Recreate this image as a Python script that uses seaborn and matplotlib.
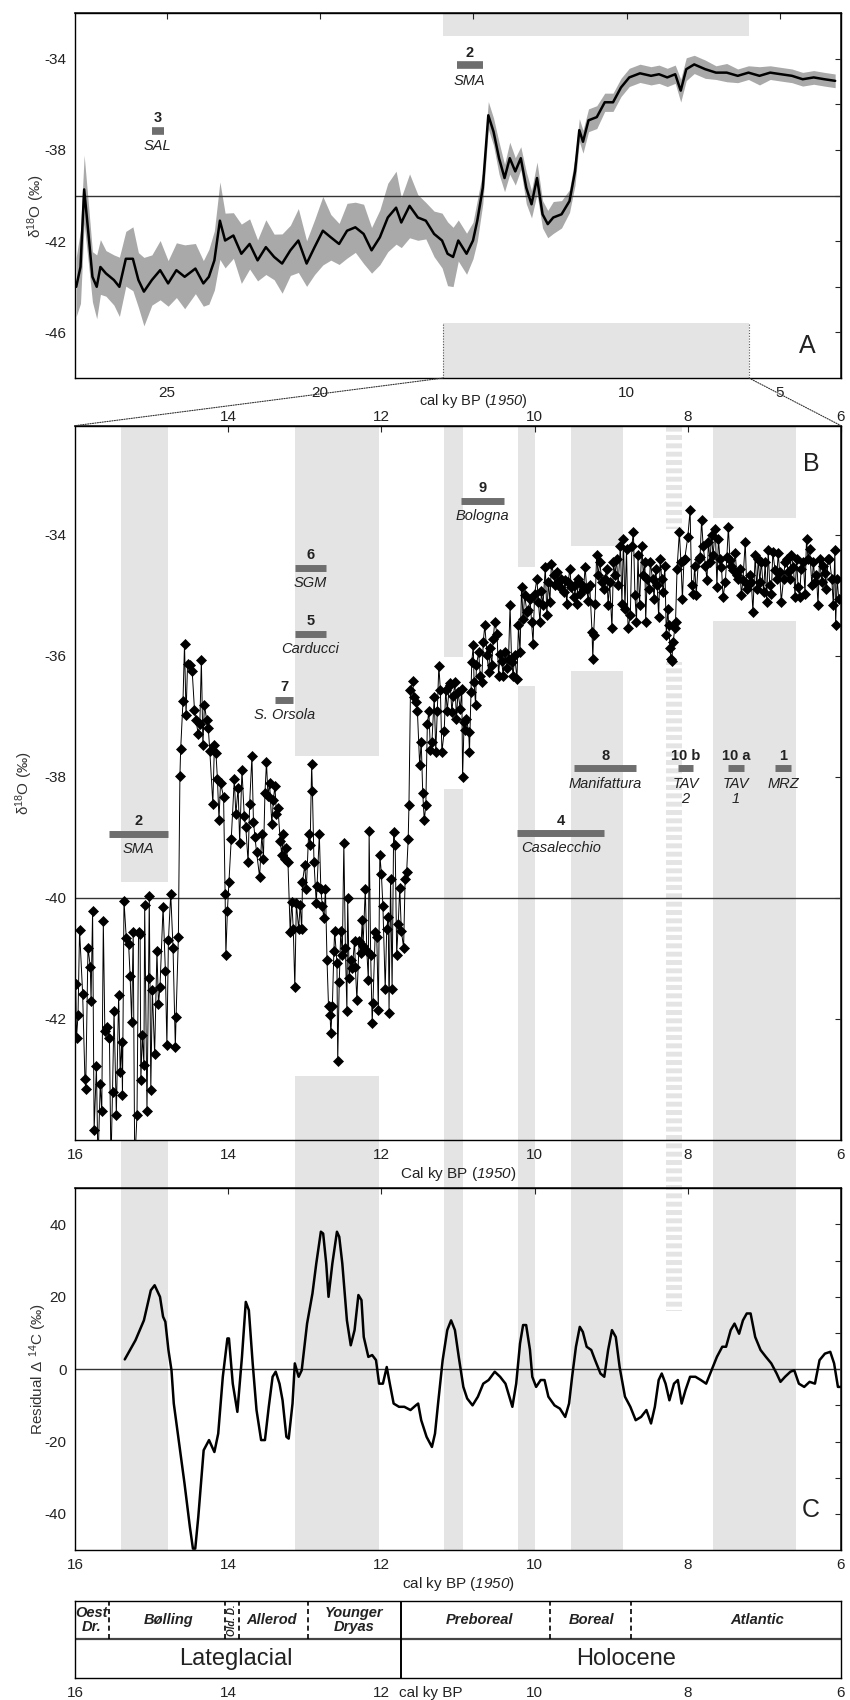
import matplotlib
matplotlib.use("Agg")
import matplotlib.pyplot as plt
import matplotlib.transforms as mtransforms
from matplotlib import font_manager
from matplotlib.patches import Rectangle, ConnectionPatch
import seaborn as sns

# style
sns.set_theme(style="white")
_names = {f.name for f in font_manager.fontManager.ttflist}
BASE = "Liberation Sans Narrow" if "Liberation Sans Narrow" in _names else "Liberation Sans"
plt.rcParams["font.family"] = [BASE, "DejaVu Sans"]
plt.rcParams["mathtext.fontset"] = "custom"
plt.rcParams["mathtext.rm"] = BASE
plt.rcParams["mathtext.it"] = BASE + ":italic"
plt.rcParams["mathtext.sf"] = BASE + ":italic"   # used for italic digits (1950)
plt.rcParams["axes.unicode_minus"] = False
plt.rcParams["hatch.linewidth"] = 3.5

BAND = "#e4e4e4"
SITE = "#6e6e6e"
ENV = "#a9a9a9"
TXT = "#222222"

# ---------------- panel A : long d18O record with envelope ----------------
ageA = [27.96, 27.82, 27.70, 27.56, 27.43, 27.29, 27.17, 26.99, 26.73, 26.55,
        26.34, 26.11, 25.93, 25.75, 25.49, 25.22, 24.96, 24.69, 24.42, 24.07,
        23.81, 23.63, 23.45, 23.27, 23.10, 22.83, 22.57, 22.30, 22.04, 21.77,
        21.50, 21.24, 20.97, 20.71, 20.44, 20.18, 19.91, 19.65, 19.38, 19.12,
        18.85, 18.58, 18.32, 18.05, 17.79, 17.52, 17.35, 17.08, 16.81, 16.55,
        16.28, 16.02, 15.84, 15.66, 15.49, 15.22, 15.01, 14.87, 14.69, 14.51,
        14.34, 14.16, 13.98, 13.81, 13.63, 13.45, 13.27, 13.10, 12.92, 12.74,
        12.57, 12.39, 12.12, 11.86, 11.68, 11.54, 11.42, 11.24, 10.97, 10.71,
        10.44, 10.18, 9.91, 9.56, 9.20, 8.94, 8.67, 8.41, 8.23, 8.05,
        7.79, 7.43, 7.08, 6.73, 6.37, 6.02, 5.66, 5.31, 4.96, 4.60,
        4.25, 3.89, 3.54, 3.19]
d18A = [-44.0, -43.13, -39.73, -41.68, -43.56, -44.0, -43.13, -43.41, -43.70, -44.0,
        -42.77, -42.77, -43.70, -44.21, -43.70, -43.27, -43.85, -43.27, -43.56, -43.20,
        -43.85, -43.56, -42.84, -41.10, -41.97, -41.75, -42.55, -42.12, -42.84, -42.26,
        -42.69, -42.98, -42.40, -41.97, -42.98, -42.26, -41.54, -41.83, -42.12, -41.54,
        -41.39, -41.68, -42.40, -41.83, -40.96, -40.53, -41.18, -40.45, -40.96, -41.10,
        -41.68, -41.97, -42.55, -42.69, -41.97, -42.55, -41.97, -41.10, -39.66, -36.48,
        -37.20, -38.36, -39.23, -38.36, -38.94, -38.36, -39.66, -40.38, -39.23, -40.82,
        -41.25, -40.96, -40.82, -40.24, -38.94, -37.13, -37.64, -36.70, -36.56, -35.91,
        -35.91, -35.26, -34.82, -34.64, -34.75, -34.68, -34.82, -34.68, -35.40, -34.46,
        -34.25, -34.46, -34.61, -34.61, -34.75, -34.61, -34.75, -34.61, -34.68, -34.75,
        -34.90, -34.82, -34.90, -34.97]
errA = [1.3, 1.6, 1.5, 1.3, 1.1, 1.4, 1.2, 1.0, 1.1, 1.3,
        1.2, 1.4, 1.2, 1.5, 1.1, 1.3, 1.0, 1.2, 1.4, 1.1,
        1.0, 1.2, 1.3, 1.7, 1.2, 1.0, 1.3, 1.1, 0.9, 1.2,
        1.0, 1.3, 1.1, 1.4, 1.0, 1.2, 1.5, 1.0, 0.9, 1.2,
        1.1, 1.3, 1.0, 1.2, 1.5, 1.6, 1.1, 1.4, 1.0, 0.8,
        1.0, 1.2, 1.4, 1.3, 0.9, 0.9, 0.8, 0.9, 0.7, 0.6,
        0.6, 0.7, 0.6, 0.7, 0.6, 0.5, 0.7, 0.6, 0.7, 0.6,
        0.6, 0.7, 0.6, 0.5, 0.6, 0.5, 0.5, 0.5, 0.5, 0.4,
        0.4, 0.4, 0.4, 0.4, 0.4, 0.4, 0.4, 0.4, 0.5, 0.5,
        0.4, 0.4, 0.3, 0.4, 0.3, 0.3, 0.4, 0.3, 0.3, 0.3,
        0.3, 0.3, 0.3, 0.3]

sitesA_num = ["3", "2"]
sitesA_name = ["SAL", "SMA"]
sitesA_old = [25.49, 15.54]
sitesA_young = [25.10, 14.69]
sitesA_y = [-37.16, -34.29]

# ---------------- panel B : high resolution d18O (16-6 ka) ----------------
ageB_lg = [15.99, 15.98, 15.96, 15.94, 15.90, 15.87, 15.86, 15.83, 15.80, 15.79,
           15.77, 15.75, 15.72, 15.70, 15.67, 15.65, 15.63, 15.61, 15.58, 15.55,
           15.53, 15.51, 15.49, 15.46, 15.43, 15.41, 15.39, 15.38, 15.36, 15.33,
           15.30, 15.28, 15.26, 15.24, 15.22, 15.19, 15.17, 15.15, 15.14, 15.12,
           15.10, 15.09, 15.06, 15.04, 15.03, 15.01, 14.99, 14.96, 14.93, 14.91,
           14.89, 14.85, 14.82, 14.80, 14.78, 14.75, 14.72, 14.69, 14.68, 14.65,
           14.63, 14.62, 14.59, 14.57, 14.55, 14.53, 14.50, 14.47, 14.44, 14.42,
           14.39, 14.37, 14.35, 14.33, 14.31, 14.28, 14.26, 14.24, 14.20, 14.18,
           14.16, 14.14, 14.12, 14.10, 14.06, 14.04, 14.03, 14.01, 13.99, 13.96,
           13.92, 13.90, 13.87, 13.85, 13.82, 13.79, 13.77, 13.74, 13.72, 13.69,
           13.67, 13.65, 13.63, 13.59]
d18B_lg = [-41.42, -42.32, -41.93, -40.53, -41.58, -42.99, -43.15, -40.82, -41.14, -41.70,
           -40.21, -43.84, -42.78, -44.4, -43.08, -43.52, -40.38, -42.2, -42.14, -42.32,
           -44.4, -43.2, -41.87, -43.58, -41.61, -42.87, -42.38, -43.25, -40.05, -40.67,
           -40.76, -41.29, -42.05, -40.56, -44.4, -43.58, -40.57, -40.59, -43.01, -42.26,
           -42.76, -40.12, -43.52, -41.32, -39.97, -43.17, -41.52, -42.58, -40.88, -41.76,
           -41.47, -40.15, -41.20, -42.43, -40.70, -39.93, -40.82, -42.46, -41.96, -40.64,
           -37.98, -37.54, -36.75, -35.81, -36.98, -36.13, -36.16, -36.25, -36.89, -37.07,
           -37.30, -37.13, -36.07, -37.48, -36.81, -37.07, -37.19, -37.57, -38.45, -37.48,
           -37.60, -38.04, -38.71, -38.10, -38.33, -39.94, -40.94, -40.21, -39.74, -39.03,
           -38.04, -38.62, -38.18, -39.09, -37.89, -38.65, -38.83, -39.41, -38.45, -37.66,
           -38.74, -39.00, -39.24, -39.65]

ageB_yd = [13.56, 13.54, 13.52, 13.50, 13.48, 13.46, 13.43, 13.41, 13.39, 13.37,
           13.35, 13.32, 13.30, 13.28, 13.26, 13.24, 13.22, 13.19, 13.17, 13.15,
           13.13, 13.11, 13.08, 13.06, 13.04, 13.03, 13.00, 12.98, 12.95, 12.93,
           12.91, 12.90, 12.88, 12.85, 12.84, 12.81, 12.79, 12.77, 12.75, 12.73,
           12.71, 12.69, 12.67, 12.66, 12.64, 12.62, 12.61, 12.58, 12.57, 12.55,
           12.53, 12.51, 12.49, 12.47, 12.45, 12.44, 12.42, 12.40, 12.38, 12.35,
           12.34, 12.32, 12.29, 12.27, 12.25, 12.24, 12.21, 12.19, 12.17, 12.16,
           12.14, 12.12, 12.11, 12.08, 12.06, 12.04, 12.02, 12.00, 11.98, 11.95,
           11.93, 11.91, 11.90, 11.88, 11.86, 11.84, 11.82, 11.80, 11.78, 11.76,
           11.74, 11.71, 11.69, 11.67, 11.65, 11.64, 11.62, 11.59, 11.58, 11.55,
           11.53, 11.50, 11.48, 11.46, 11.44, 11.42, 11.40, 11.38, 11.36, 11.34,
           11.31, 11.29, 11.27, 11.25, 11.23, 11.21, 11.18, 11.16, 11.14, 11.11]
d18B_yd = [-38.95, -39.35, -38.27, -37.76, -38.32, -38.10, -38.78, -38.38, -38.15, -38.61,
           -38.52, -39.06, -39.29, -38.95, -39.35, -39.18, -39.40, -40.57, -40.06, -40.51,
           -41.48, -40.09, -40.51, -40.11, -40.51, -39.74, -39.46, -39.86, -38.95, -39.12,
           -37.79, -38.24, -39.40, -40.09, -39.80, -38.95, -39.86, -40.14, -40.34, -39.86,
           -41.02, -41.79, -41.93, -42.24, -41.79, -40.88, -40.54, -41.08, -42.70, -41.39,
           -40.54, -40.94, -39.09, -40.82, -41.87, -40.00, -41.33, -41.02, -41.16, -40.71,
           -41.14, -41.68, -40.71, -40.91, -40.37, -40.80, -39.86, -40.88, -41.36, -38.89,
           -40.94, -42.07, -41.73, -40.57, -40.65, -41.85, -39.29, -39.60, -40.14, -41.50,
           -40.51, -40.31, -41.90, -39.69, -41.50, -38.92, -39.12, -40.94, -40.43, -39.83,
           -40.54, -40.82, -39.69, -39.57, -39.03, -38.47, -36.56, -36.42, -36.68, -36.76,
           -36.91, -37.81, -37.42, -38.27, -38.72, -38.47, -37.13, -36.91, -37.56, -37.42,
           -36.68, -37.59, -36.91, -36.17, -36.56, -37.59, -37.25, -36.56, -36.91, -36.45]

ageB_eh = [11.10, 11.08, 11.06, 11.04, 11.02, 11.00, 10.97, 10.95, 10.94, 10.92,
           10.91, 10.89, 10.86, 10.85, 10.83, 10.82, 10.80, 10.79, 10.77, 10.76,
           10.73, 10.71, 10.69, 10.67, 10.65, 10.62, 10.60, 10.58, 10.56, 10.54,
           10.52, 10.49, 10.47, 10.45, 10.43, 10.41, 10.39, 10.36, 10.34, 10.32,
           10.30, 10.28, 10.26, 10.23, 10.21, 10.19, 10.17, 10.15, 10.13, 10.10,
           10.08, 10.06, 10.04, 10.02, 10.00, 9.97, 9.95, 9.93, 9.91, 9.89,
           9.86, 9.84, 9.82, 9.80, 9.78, 9.75, 9.73, 9.71, 9.69, 9.67,
           9.65, 9.62, 9.60, 9.58, 9.56, 9.54, 9.52, 9.49, 9.47, 9.45,
           9.43, 9.41, 9.39, 9.36, 9.34, 9.32, 9.30, 9.28, 9.25, 9.24,
           9.23, 9.21, 9.19, 9.17, 9.15, 9.12, 9.10, 9.08, 9.06, 9.04,
           9.02, 8.99, 8.97, 8.95, 8.93, 8.91, 8.88, 8.86, 8.84, 8.82,
           8.80, 8.78, 8.75, 8.73, 8.71, 8.69, 8.67, 8.65, 8.63]
d18B_eh = [-36.49, -36.93, -36.66, -36.44, -37.04, -36.60, -36.88, -36.55, -38.01, -37.10,
           -37.23, -37.04, -37.26, -37.59, -36.60, -36.10, -35.83, -36.44, -36.82, -36.16,
           -35.94, -36.33, -36.44, -35.77, -35.50, -35.99, -36.27, -35.88, -36.16, -35.72,
           -35.44, -35.64, -36.33, -35.97, -36.08, -36.33, -35.94, -36.21, -36.05, -35.17,
           -36.10, -36.33, -35.99, -36.38, -35.50, -35.94, -34.87, -35.39, -35.00, -35.28,
           -35.25, -35.06, -35.44, -35.80, -34.98, -34.73, -35.11, -35.44, -34.93, -35.17,
           -34.53, -35.33, -34.78, -35.11, -34.48, -34.67, -34.84, -34.62, -34.78, -34.87,
           -34.73, -34.95, -34.75, -35.14, -34.78, -34.56, -34.87, -35.03, -34.84, -35.14,
           -34.73, -34.98, -34.81, -34.89, -34.53, -34.89, -35.09, -34.84, -35.61, -36.05,
           -35.66, -35.14, -34.34, -34.67, -34.45, -34.78, -34.89, -34.73, -34.56, -35.17,
           -34.78, -35.55, -34.45, -34.67, -34.40, -34.84, -34.18, -35.14, -34.07, -35.22,
           -34.23, -35.55, -35.33, -34.18, -33.96, -35.00, -35.44, -34.34, -35.17]

ageB_mh = [8.60, 8.58, 8.56, 8.55, 8.53, 8.50, 8.49, 8.46, 8.44, 8.42,
           8.40, 8.38, 8.36, 8.34, 8.32, 8.30, 8.28, 8.26, 8.25, 8.23,
           8.22, 8.21, 8.19, 8.17, 8.16, 8.14, 8.11, 8.09, 8.07, 8.05,
           8.04, 8.00, 7.97, 7.95, 7.93, 7.91, 7.89, 7.86, 7.84, 7.82,
           7.80, 7.77, 7.75, 7.73, 7.71, 7.69, 7.67, 7.64, 7.62, 7.60,
           7.58, 7.56, 7.54, 7.51, 7.49, 7.47, 7.45, 7.43, 7.41, 7.38,
           7.36, 7.34, 7.32, 7.30, 7.28, 7.25, 7.23, 7.21, 7.19, 7.17,
           7.15, 7.12, 7.10, 7.08, 7.06, 7.04, 7.01, 6.99, 6.97, 6.95,
           6.93, 6.91, 6.89, 6.86, 6.84, 6.82, 6.80, 6.78, 6.75, 6.73,
           6.71, 6.69, 6.67, 6.65, 6.62, 6.60, 6.58, 6.56, 6.54, 6.52,
           6.49, 6.47, 6.45, 6.43, 6.41, 6.38, 6.36, 6.34, 6.32, 6.30,
           6.28, 6.25, 6.23, 6.21, 6.19, 6.17, 6.15, 6.12, 6.10, 6.08,
           6.07, 6.05, 6.03]
d18B_mh = [-34.18, -34.67, -34.45, -35.44, -34.73, -34.89, -34.45, -34.73, -35.06, -34.56,
           -34.84, -35.36, -34.40, -34.73, -34.95, -34.51, -35.66, -35.22, -35.50, -35.88,
           -36.05, -36.08, -35.77, -35.55, -35.44, -34.56, -33.96, -34.45, -35.06, -34.42,
           -34.40, -34.04, -33.60, -34.84, -34.98, -34.51, -35.00, -34.40, -34.37, -33.76,
           -34.18, -34.51, -34.75, -34.12, -34.45, -34.01, -34.34, -33.90, -34.87, -34.07,
           -34.40, -34.53, -35.03, -34.78, -34.37, -33.87, -34.42, -34.51, -34.59, -34.31,
           -34.67, -34.73, -34.56, -35.00, -34.75, -34.12, -34.89, -34.84, -34.67, -34.78,
           -35.28, -34.34, -34.89, -34.40, -34.78, -34.45, -34.95, -34.45, -35.11, -34.26,
           -34.84, -34.98, -34.29, -34.59, -34.73, -34.31, -34.62, -35.11, -34.73, -34.45,
           -34.40, -34.62, -34.73, -34.34, -34.53, -35.03, -34.40, -34.87, -35.03, -34.56,
           -34.45, -34.98, -34.07, -34.40, -34.23, -34.84, -34.45, -34.78, -34.67, -35.17,
           -34.40, -34.78, -34.51, -34.64, -34.89, -34.40, -34.40, -34.73, -35.17, -34.26,
           -35.50, -34.73, -35.06]

sitesB_num = ["2", "4", "8", "10 b", "10 a", "1", "9", "6", "5", "7"]
sitesB_name = ["SMA", "Casalecchio", "Manifattura", "TAV\n2", "TAV\n1", "MRZ",
               "Bologna", "SGM", "Carducci", "S. Orsola"]
sitesB_old = [15.56, 10.23, 9.48, 8.13, 7.48, 6.86, 10.96, 13.13, 13.13, 13.39]
sitesB_young = [14.78, 9.09, 8.67, 7.93, 7.26, 6.65, 10.40, 12.72, 12.72, 13.15]
sitesB_y = [-38.94, -38.93, -37.86, -37.86, -37.86, -37.86, -33.44, -34.55, -35.64, -36.73]

# grey event bands (ka), with the white gap they leave in panel B
band_old = [15.40, 13.13, 11.18, 10.21, 9.52, 7.67]
band_young = [14.78, 12.03, 10.93, 9.99, 8.85, 6.59]
band_gap_top = [-39.73, -37.66, -36.02, -34.53, -34.19, -33.73]
band_gap_bot = [-44.0, -42.94, -38.20, -36.50, -36.25, -35.42]
dash_old, dash_young = 8.29, 8.08
dash_gap_top, dash_gap_bot, dash_end_C = -33.9, -36.1, 16.0

# ---------------- panel C : residual D14C ----------------
ageC = [15.35, 15.21, 15.10, 15.01, 14.96, 14.89, 14.85, 14.82, 14.78, 14.74,
        14.71, 14.64, 14.57, 14.50, 14.46, 14.43, 14.39, 14.32, 14.25, 14.18,
        14.13, 14.07, 14.01, 13.99, 13.94, 13.88, 13.82, 13.77, 13.73, 13.68,
        13.63, 13.57, 13.52, 13.47, 13.42, 13.38, 13.33, 13.29, 13.24, 13.21,
        13.16, 13.13, 13.08, 13.04, 12.97, 12.90, 12.85, 12.79, 12.76, 12.72,
        12.69, 12.64, 12.58, 12.55, 12.51, 12.45, 12.40, 12.35, 12.30, 12.26,
        12.23, 12.17, 12.12, 12.07, 12.03, 11.98, 11.93, 11.89, 11.84, 11.77,
        11.70, 11.62, 11.55, 11.52, 11.48, 11.41, 11.34, 11.30, 11.26, 11.20,
        11.14, 11.09, 11.04, 10.99, 10.93, 10.88, 10.81, 10.74, 10.67, 10.60,
        10.52, 10.45, 10.38, 10.33, 10.29, 10.24, 10.19, 10.15, 10.11, 10.06,
        10.03, 9.98, 9.92, 9.87, 9.82, 9.74, 9.67, 9.60, 9.55, 9.51,
        9.46, 9.41, 9.37, 9.32, 9.26, 9.21, 9.14, 9.09, 9.04, 8.99,
        8.94, 8.89, 8.82, 8.75, 8.68, 8.61, 8.54, 8.48, 8.43, 8.38,
        8.34, 8.29, 8.24, 8.18, 8.13, 8.08, 8.03, 7.97, 7.90, 7.83,
        7.76, 7.69, 7.62, 7.55, 7.50, 7.44, 7.39, 7.33, 7.28, 7.23,
        7.18, 7.12, 7.05, 6.98, 6.91, 6.84, 6.79, 6.73, 6.66, 6.61,
        6.55, 6.48, 6.41, 6.34, 6.28, 6.21, 6.14, 6.09, 6.04, 6.00]
resC = [2.7, 8.0, 13.5, 21.8, 23.2, 20.0, 14.5, 13.1, 5.3, -0.3,
        -9.5, -20.6, -31.6, -43.6, -49.6, -49.6, -40.8, -22.4, -19.6, -22.9,
        -17.8, -2.1, 8.5, 8.5, -4.0, -11.8, 3.4, 18.6, 16.3, 1.6,
        -11.3, -19.6, -19.6, -10.4, -2.1, -0.7, -4.0, -8.6, -18.7, -19.2,
        -9.5, 1.6, -2.1, -0.3, 12.6, 20.9, 29.2, 38.0, 37.5, 29.2,
        20.0, 29.2, 38.0, 36.6, 29.2, 13.5, 6.6, 10.8, 20.5, 19.1,
        8.9, 3.4, 3.9, 2.5, -4.0, -4.0, 0.6, -4.0, -9.5, -10.4,
        -10.4, -11.3, -10.0, -9.5, -14.1, -18.7, -21.5, -17.8, -9.5, 2.5,
        10.8, 13.5, 10.8, 3.4, -4.9, -8.1, -10.0, -7.6, -4.0, -3.0,
        -0.7, -2.1, -4.0, -7.6, -10.4, -4.0, 7.1, 12.2, 12.2, 5.3,
        -2.1, -4.9, -3.0, -3.0, -7.6, -10.0, -10.9, -13.2, -9.5, -2.1,
        6.2, 11.7, 10.3, 6.2, 5.3, 2.5, -1.2, -2.1, 5.3, 10.8,
        8.9, 0.6, -7.6, -10.4, -14.1, -13.2, -11.3, -15.0, -10.4, -3.0,
        -1.2, -4.0, -8.6, -4.0, -3.0, -9.5, -5.8, -2.1, -2.1, -3.0,
        -4.0, -0.3, 3.4, 6.2, 6.2, 10.8, 12.6, 9.8, 13.5, 15.4,
        15.4, 8.9, 5.3, 3.4, 1.6, -1.2, -3.5, -2.1, -0.7, -0.3,
        -4.0, -4.9, -3.5, -4.0, 2.5, 4.3, 4.8, 1.6, -4.9, -4.9]

# ---------------- chronozones ----------------
chron_names = ["Oest\nDr.", "Bølling", "Allerod", "Younger\nDryas", "Preboreal", "Boreal", "Atlantic"]
chron_pos = [15.78, 14.78, 13.43, 12.35, 10.72, 9.25, 7.09]
chron_bounds = [15.56, 14.04, 13.86, 12.96, 9.80, 8.74]
od_name, od_pos = "Old. D.", 13.95
epoch_names = ["Lateglacial", "Holocene"]
epoch_pos = [13.9, 8.8]
epoch_split = 11.75

ageB = ageB_lg + ageB_yd + ageB_eh + ageB_mh
d18B = d18B_lg + d18B_yd + d18B_eh + d18B_mh
assert len(ageB) == len(d18B) and len(ageA) == len(d18A) == len(errA) and len(ageC) == len(resC)

XLAB_A = r"cal ky BP ($\mathsf{1950}$)"
XLAB_B = r"Cal ky BP ($\mathsf{1950}$)"


def style_axis(ax, right_ticks):
    for sp in ax.spines.values():
        sp.set_color("black")
        sp.set_linewidth(1.0)
    ax.tick_params(axis="both", direction="out", length=4, width=0.8,
                   labelsize=11, colors="black", labelcolor=TXT, pad=2)
    sec = ax.secondary_yaxis("right")
    sec.set_yticks(right_ticks, labels=[])
    sec.tick_params(direction="in", length=4, width=0.8)
    return sec


def add_site(ax, old, young, y, num, name, lw=5):
    ax.plot([old, young], [y, y], color=SITE, lw=lw, solid_capstyle="butt", zorder=4)
    mid = (old + young) / 2
    ax.annotate(num, (mid, y), xytext=(0, 4), textcoords="offset points",
                ha="center", va="bottom", fontsize=10.5, fontweight="bold", color=TXT, zorder=5)
    ax.annotate(name, (mid, y), xytext=(0, -6), textcoords="offset points",
                ha="center", va="top", fontsize=10.5, fontstyle="italic", color=TXT,
                linespacing=1.1, zorder=5)


fig = plt.figure(figsize=(8.5, 17), dpi=100)
axA = fig.add_axes([0.0882, 0.7776, 0.9012, 0.2147])
axB = fig.add_axes([0.0882, 0.3294, 0.9012, 0.4202])
axC = fig.add_axes([0.0882, 0.0882, 0.9012, 0.2128])
axD = fig.add_axes([0.0882, 0.0131, 0.9012, 0.0451])
for ax in (axA, axB, axC, axD):
    ax.set_facecolor("none")

# ---- A ----
axA.set_xlim(28, 3)
axA.set_ylim(-48, -32)
axA.fill_between(ageA, [v - e for v, e in zip(d18A, errA)], [v + e for v, e in zip(d18A, errA)],
                 color=ENV, lw=0, zorder=1)
sns.lineplot(x=ageA, y=d18A, ax=axA, estimator=None, sort=False, color="black", lw=1.8, zorder=3)
axA.axhline(-40, color="#333333", lw=1.0, zorder=2)
axA.add_patch(Rectangle((6, -33.0), 10, 1.0, facecolor=BAND, lw=0, zorder=0))
axA.add_patch(Rectangle((6, -48.0), 10, 2.4, facecolor=BAND, lw=0, zorder=0))
axA.vlines([16, 6], -48, -45.6, colors="#555555", lw=0.8, linestyles=(0, (1, 1.5)), zorder=1)
for o, yg, y, n, nm in zip(sitesA_old, sitesA_young, sitesA_y, sitesA_num, sitesA_name):
    add_site(axA, o, yg, y, n, nm, lw=5.5)
axA.set_xticks([25, 20, 15, 10, 5], labels=["25", "20", "", "10", "5"])
axA.set_yticks([-34, -38, -42, -46])
style_axis(axA, [-34, -36, -38, -40, -42, -44, -46])
secA = axA.secondary_xaxis("top")
secA.set_xticks([25, 20, 15, 10, 5], labels=[])
secA.tick_params(direction="in", length=4, width=0.8)
axA.set_ylabel(r"δ$^{18}$O (‰)", fontsize=11, color="#333333")
axA.yaxis.set_label_coords(-0.036, 0.47)
axA.annotate(XLAB_A, (15, 0), xycoords=("data", "axes fraction"),
             xytext=(0, -10), textcoords="offset points", ha="center", va="top",
             fontsize=10.5, color=TXT)
axA.text(4.1, -46.6, "A", fontsize=18, ha="center", va="center", color=TXT)
axA.set_xlabel("")

# ---- B ----
yB0, yB1 = -44.0, -32.2
axB.set_xlim(16, 6)
axB.set_ylim(yB0, yB1)
for o, yg, gt, gb in zip(band_old, band_young, band_gap_top, band_gap_bot):
    axB.add_patch(Rectangle((yg, gt), o - yg, yB1 - gt, facecolor=BAND, lw=0, zorder=0))
    axB.add_patch(Rectangle((yg, yB0), o - yg, gb - yB0, facecolor=BAND, lw=0, zorder=0))
axB.add_patch(Rectangle((dash_young, dash_gap_top), dash_old - dash_young, yB1 - dash_gap_top,
                        facecolor="none", edgecolor=BAND, hatch="--", lw=0, zorder=0))
axB.add_patch(Rectangle((dash_young, yB0), dash_old - dash_young, dash_gap_bot - yB0,
                        facecolor="none", edgecolor=BAND, hatch="--", lw=0, zorder=0))
axB.axhline(-40, color="#333333", lw=1.0, zorder=1)
sns.lineplot(x=ageB, y=d18B, ax=axB, estimator=None, sort=False, color="black", lw=0.7,
             marker="D", markersize=5.2, markeredgecolor="black", markeredgewidth=0.5, zorder=3)
for o, yg, y, n, nm in zip(sitesB_old, sitesB_young, sitesB_y, sitesB_num, sitesB_name):
    add_site(axB, o, yg, y, n, nm)
axB.set_xticks([16, 14, 12, 10, 8, 6])
axB.set_yticks([-34, -36, -38, -40, -42])
style_axis(axB, [-34, -36, -38, -40, -42])
secB = axB.secondary_xaxis("top")
secB.set_xticks([14, 12, 10, 8, 6])
secB.tick_params(direction="in", length=4, width=0.8, labelsize=11, labelcolor=TXT, pad=1)
axB.set_ylabel(r"δ$^{18}$O (‰)", fontsize=11, color="#333333")
axB.yaxis.set_label_coords(-0.052, 0.5)
axB.set_xlabel(XLAB_B, fontsize=11, color=TXT, labelpad=2)
axB.text(6.39, -32.84, "B", fontsize=18, ha="center", va="center", color=TXT)

# ---- C ----
axC.set_xlim(16, 6)
axC.set_ylim(-50, 50)
for o, yg in zip(band_old, band_young):
    axC.add_patch(Rectangle((yg, -50), o - yg, 100, facecolor=BAND, lw=0, zorder=0))
axC.add_patch(Rectangle((dash_young, dash_end_C), dash_old - dash_young, 50 - dash_end_C,
                        facecolor="none", edgecolor=BAND, hatch="--", lw=0, zorder=0))
axC.axhline(0, color="#333333", lw=1.0, zorder=1)
sns.lineplot(x=ageC, y=resC, ax=axC, estimator=None, sort=False, color="black", lw=1.8, zorder=3)
axC.set_xticks([16, 14, 12, 10, 8, 6])
axC.set_yticks([-40, -20, 0, 20, 40])
style_axis(axC, [-40, -30, -20, -10, 0, 10, 20, 30, 40])
secC = axC.secondary_xaxis("top")
secC.set_xticks([14, 12, 10, 8], labels=[])
secC.tick_params(direction="in", length=4, width=0.8)
axC.set_ylabel(r"Residual Δ $^{14}$C (‰)", fontsize=11, color="#333333")
axC.yaxis.set_label_coords(-0.034, 0.5)
axC.set_xlabel(XLAB_A, fontsize=11, color=TXT, labelpad=2)
axC.text(6.40, -39.0, "C", fontsize=18, ha="center", va="center", color=TXT)

# bands running through the gap between B and C
posB, posC = axB.get_position(), axC.get_position()
trans = mtransforms.blended_transform_factory(axC.transData, fig.transFigure)
for o, yg in zip(band_old, band_young):
    fig.add_artist(Rectangle((yg, posC.y1), o - yg, posB.y0 - posC.y1, transform=trans,
                             facecolor=BAND, lw=0, zorder=-5))
fig.add_artist(Rectangle((dash_young, posC.y1), dash_old - dash_young, posB.y0 - posC.y1,
                         transform=trans, facecolor="none", edgecolor=BAND, hatch="--",
                         lw=0, zorder=-5))

# dotted zoom lines from A to B
for xv in (16, 6):
    fig.add_artist(ConnectionPatch(xyA=(xv, -48), coordsA=axA.transData,
                                   xyB=(xv, yB1), coordsB=axB.transData,
                                   color="#333333", lw=0.8, linestyle=(0, (1, 1.2))))

# ---- D : chronozones ----
axD.set_xlim(16, 6)
axD.set_ylim(0, 2)
axD.axhline(1, color="#444444", lw=1.6)
axD.vlines(chron_bounds, 1, 2, colors="black", lw=1.2, linestyles=(0, (3, 2)))
axD.vlines([epoch_split], 0, 2, colors="black", lw=1.4)
for nm, xp in zip(chron_names, chron_pos):
    axD.text(xp, 1.5, nm, ha="center", va="center", fontsize=10.5, fontweight="bold",
             fontstyle="italic", color=TXT, linespacing=1.0)
axD.text(od_pos, 1.5, od_name, ha="center", va="center", rotation=90, fontsize=7,
         fontweight="bold", fontstyle="italic", color=TXT)
for nm, xp in zip(epoch_names, epoch_pos):
    axD.text(xp, 0.5, nm, ha="center", va="center", fontsize=17, color=TXT)
axD.set_xticks([16, 14, 12, 10, 8, 6])
axD.set_xticks([11.35], labels=["cal ky BP"], minor=True)
axD.set_yticks([])
for sp in axD.spines.values():
    sp.set_color("black")
    sp.set_linewidth(1.0)
axD.tick_params(axis="x", which="major", direction="out", length=4, width=0.8,
                labelsize=11, labelcolor=TXT, pad=2)
axD.tick_params(axis="x", which="minor", length=0, labelsize=11, labelcolor=TXT, pad=6)

fig.savefig("out.png", dpi=100)
